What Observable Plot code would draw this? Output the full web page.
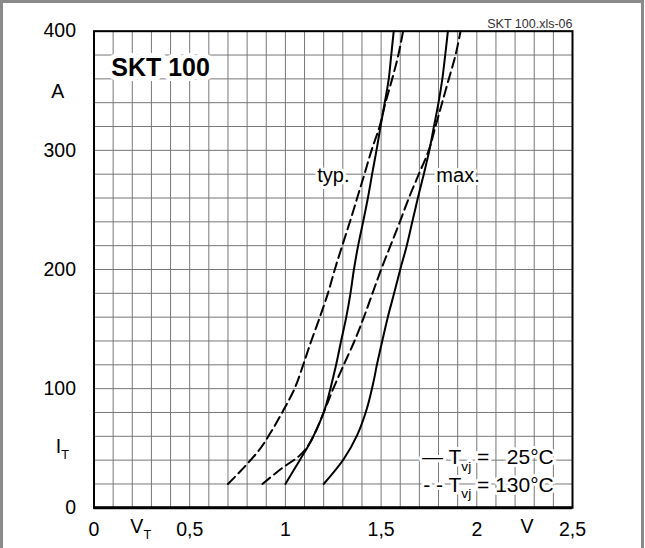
<!DOCTYPE html>
<html><head><meta charset="utf-8">
<script src="https://cdn.jsdelivr.net/npm/d3@7"></script>
<script src="https://cdn.jsdelivr.net/npm/@observablehq/plot@0.6"></script>
<style>
html,body{margin:0;padding:0;background:#fff;}
#wrap{position:relative;width:645px;height:548px;overflow:hidden;background:#fff;}
#border{position:absolute;left:0;top:0;width:644px;height:548px;box-sizing:border-box;border:3px solid #8a8a8a;border-bottom:none;pointer-events:none;}
</style></head><body>
<div id="wrap"><div id="chart"></div><div id="border"></div></div>
<script>
// ---- data (V_T in volts, I_T in amperes) ----
const typ25V  = [1.00, 1.075, 1.13, 1.20, 1.235, 1.265, 1.291, 1.318, 1.34, 1.358, 1.38, 1.406, 1.431, 1.453, 1.476, 1.497, 1.519, 1.540, 1.553, 1.566];
const typ25I  = [20, 40, 55, 80, 100, 120, 140, 160, 180, 200, 220, 240, 260, 280, 300, 320, 340, 360, 380, 400];
const typ130V = [0.70, 0.79, 0.87, 0.93, 0.99, 1.048, 1.093, 1.135, 1.18, 1.222, 1.258, 1.297, 1.337, 1.375, 1.413, 1.45, 1.492, 1.523, 1.558, 1.59, 1.615];
const typ130I = [20, 35, 50, 65, 82, 100, 120, 140, 160, 180, 200, 220, 240, 260, 280, 300, 320, 340, 360, 380, 400];
const max130V = [0.88, 0.98, 1.075, 1.13, 1.20, 1.25, 1.305, 1.361, 1.41, 1.455, 1.50, 1.549, 1.598, 1.645, 1.697, 1.749, 1.784, 1.819, 1.854, 1.889, 1.915];
const max130I = [20, 33, 44, 55, 80, 100, 120, 140, 160, 180, 200, 220, 240, 260, 280, 300, 320, 340, 360, 380, 400];
const max25V  = [1.20, 1.305, 1.375, 1.427, 1.462, 1.478, 1.506, 1.535, 1.568, 1.60, 1.634, 1.663, 1.692, 1.723, 1.752, 1.776, 1.80, 1.82, 1.835, 1.849];
const max25I  = [20, 41, 61, 84, 107, 120, 140, 160, 180, 200, 220, 240, 260, 280, 300, 320, 340, 360, 380, 400];

const xTicks = [0, 0.5, 1, 1.5, 2, 2.5];
const xTickLabels = ["0", "0,5", "1", "1,5", "2", "2,5"];
const yTicks = [0, 100, 200, 300, 400];
const yTickLabels = ["0", "100", "200", "300", "400"];
const xGrid = d3.range(0, 26).map(i => i / 10);
const yGrid = d3.range(0, 21).map(i => i * 20);

const titleText = "SKT 100";
const fileText = "SKT 100.xls-06";
const curveLabels = ["typ.", "max."];
const curveLabelV = [1.251, 1.902];
const curveLabelI = [279, 279];
const legendLabels = ["\u2014 T_{vj} =\u00A0\u00A0\u00A025\u00B0C", "- - T_{vj} = 130\u00B0C"];
const legendV = [2.402, 2.402];
const legendI = [42, 19];

// ---- build tables ----
const series = [
  {name: "typ 25", dashed: false, V: typ25V, I: typ25I},
  {name: "typ 130", dashed: true, V: typ130V, I: typ130I},
  {name: "max 130", dashed: true, V: max130V, I: max130I},
  {name: "max 25", dashed: false, V: max25V, I: max25I}
];
const rows = series.flatMap(s => s.V.map((v, i) => ({series: s.name, dashed: s.dashed, V: v, I: s.I[i]})));
const curveLabelRows = curveLabels.map((t, i) => ({t, V: curveLabelV[i], I: curveLabelI[i]}));
const legendRows = legendLabels.map((t, i) => ({t, V: legendV[i], I: legendI[i]}));

const font = "'Liberation Sans', Arial, Helvetica, sans-serif";
const halo = {stroke: "white", strokeWidth: 6, paintOrder: "stroke", strokeLinejoin: "round"};

const chart = Plot.plot({
  width: 645, height: 548,
  marginLeft: 93.5, marginRight: 73, marginTop: 30.7, marginBottom: 40.7,
  x: {domain: [0, 2.5], ticks: xTicks, tickFormat: d => xTickLabels[xTicks.indexOf(d)], tickSize: 0, tickPadding: 14, label: null},
  y: {domain: [0, 400], ticks: yTicks, tickFormat: d => yTickLabels[yTicks.indexOf(d)], tickSize: 0, tickPadding: 18, label: null},
  style: {fontFamily: font, fontSize: "19.5px", color: "#000", background: "#fff", overflow: "visible"},
  marks: [
    Plot.ruleX(xGrid, {stroke: "#777", strokeWidth: 1}),
    Plot.ruleY(yGrid, {stroke: "#777", strokeWidth: 1}),
    Plot.line(rows.filter(d => !d.dashed), {x: "V", y: "I", z: "series", curve: "catmull-rom", stroke: "black", strokeWidth: 2}),
    Plot.line(rows.filter(d => d.dashed), {x: "V", y: "I", z: "series", curve: "catmull-rom", stroke: "black", strokeWidth: 2, strokeDasharray: "10,5"}),
    Plot.text([{t: titleText, V: 0.09, I: 369}], {x: "V", y: "I", text: "t", textAnchor: "start", fontSize: 25, fontWeight: "bold", fill: "black", stroke: "white", strokeWidth: 10, paintOrder: "stroke", strokeLinejoin: "round"}),
    Plot.text(curveLabelRows, {x: "V", y: "I", text: "t", textAnchor: "middle", fontSize: 20, fill: "black", ...halo}),
    Plot.text(legendRows, {x: "V", y: "I", text: "t", textAnchor: "end", fontSize: 21, fill: "black", ...halo}),
    Plot.text([{t: "A", V: -0.19, I: 349}], {x: "V", y: "I", text: "t", textAnchor: "middle", fontSize: 19.5, fill: "black"}),
    Plot.text([{t: "I_{T}", V: -0.2, I: 51}], {x: "V", y: "I", text: "t", textAnchor: "start", fontSize: 19.5, fill: "black"}),
    Plot.text([{t: "V_{T}", V: 0.19, I: -16}], {x: "V", y: "I", text: "t", textAnchor: "start", fontSize: 19.5, fill: "black"}),
    Plot.text([{t: "V", V: 2.262, I: -16}], {x: "V", y: "I", text: "t", textAnchor: "middle", fontSize: 19.5, fill: "black"}),
    Plot.text([fileText], {frameAnchor: "top-right", textAnchor: "end", lineAnchor: "bottom", dy: -3.4, fontSize: 12.5, fill: "#333"}),
    Plot.ruleY([0], {stroke: "black", strokeWidth: 3}),
    Plot.frame({stroke: "black", strokeWidth: 2})
  ]
});
document.getElementById("chart").appendChild(chart);

// ---- subscripts: turn "X_{sub}" into tspans ----
const svgns = "http://www.w3.org/2000/svg";
chart.querySelectorAll("text").forEach(t => {
  const s = t.textContent;
  if (!s.includes("_{")) return;
  const fs = parseFloat(getComputedStyle(t).fontSize) || 19.5;
  const parts = s.split(/_\{([^}]*)\}/);
  while (t.firstChild) t.removeChild(t.firstChild);
  let shifted = false;
  parts.forEach((p, i) => {
    if (!p) return;
    const ts = document.createElementNS(svgns, "tspan");
    ts.textContent = p;
    if (i % 2 === 1) {
      ts.setAttribute("font-size", (0.65 * fs).toFixed(2));
      ts.setAttribute("dy", (0.3 * fs).toFixed(2));
      shifted = true;
    } else if (shifted) {
      ts.setAttribute("dy", (-0.3 * fs).toFixed(2));
      shifted = false;
    }
    t.appendChild(ts);
  });
});
</script>
</body></html>
